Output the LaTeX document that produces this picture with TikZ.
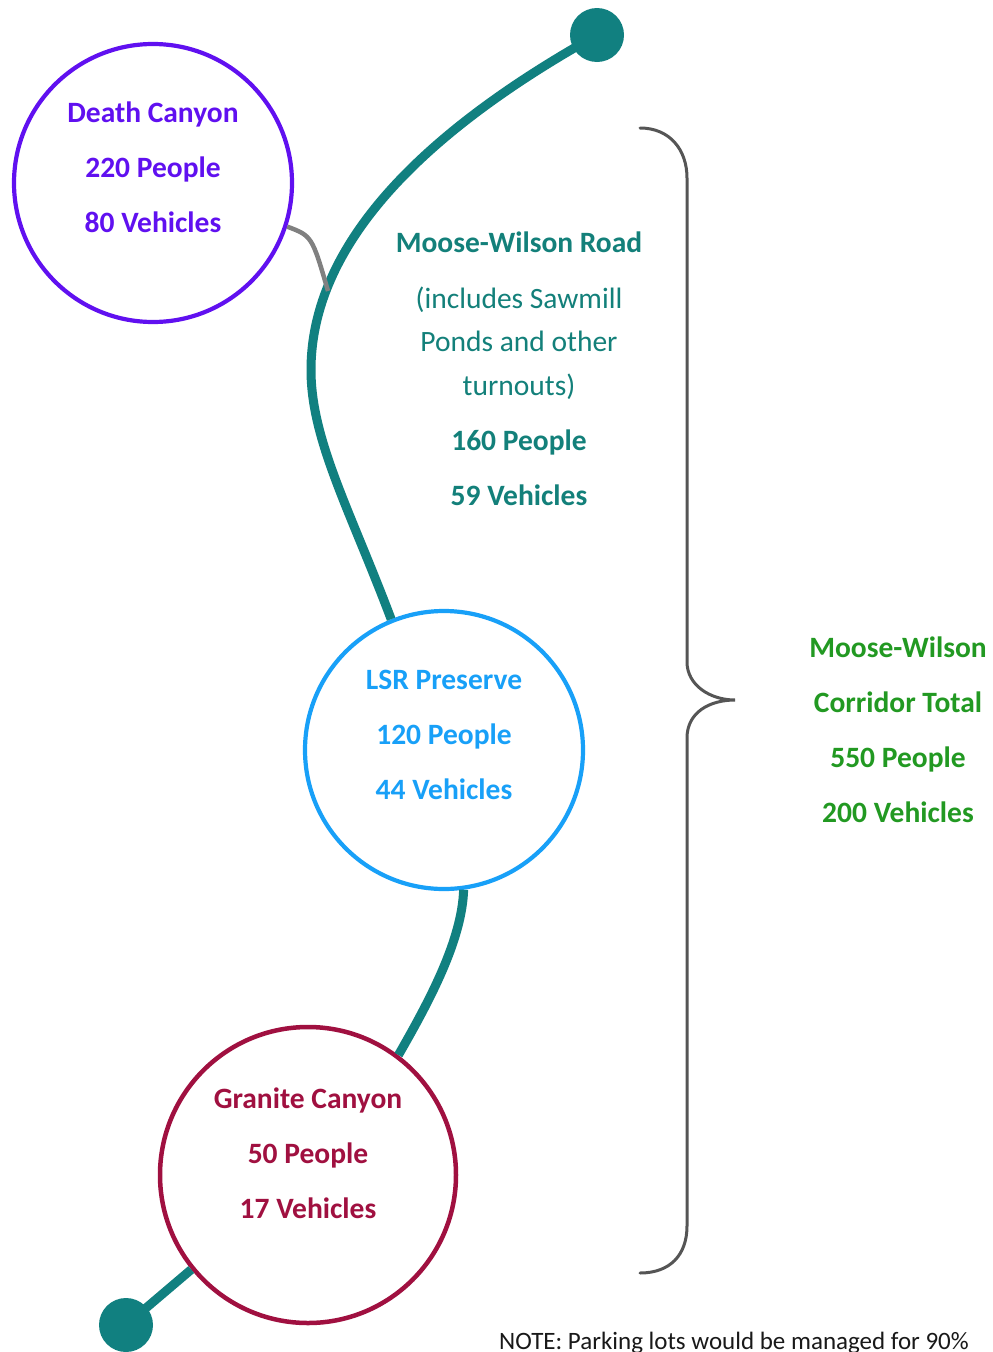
\documentclass[tikz,border=0pt]{standalone}
\usepackage{fontspec}
\setmainfont{Carlito}
\definecolor{roadc}{RGB}{17,128,128}
\definecolor{dcc}{RGB}{96,16,240}
\definecolor{lsrc}{RGB}{24,160,248}
\definecolor{gcc}{RGB}{160,16,64}
\definecolor{mwc}{RGB}{19,128,122}
\definecolor{totc}{RGB}{34,153,34}
\definecolor{grayc}{RGB}{128,128,128}
\definecolor{bracec}{RGB}{85,85,85}
\tikzset{
  road/.style={line width=9pt, draw=roadc},
  ring/.style={circle, draw, line width=4.2pt, inner sep=0pt},
  dotnode/.style={circle, fill=roadc, minimum size=54pt, inner sep=0pt},
  lbl/.style={anchor=base, inner sep=0pt, font=\bfseries\fontsize{29.5}{35}\selectfont},
  lblr/.style={anchor=base, inner sep=0pt, font=\fontsize{29.5}{35}\selectfont},
  bracepath/.style={line width=3pt, draw=bracec, line cap=round},
}
\begin{document}
\begin{tikzpicture}[x=1pt,y=-1pt]
\useasboundingbox[fill=white] (0,0) rectangle (993,1352);
% circles
\node[ring, draw=dcc, minimum size=278pt] (dc) at (153,183) {};
\node[ring, draw=lsrc, minimum size=278pt] (lsr) at (444,750) {};
\node[ring, draw=gcc, line width=4.5pt, minimum size=296pt] (gc) at (308,1175) {};
\node[dotnode] (td) at (597,35) {};
\node[dotnode] (bd) at (126,1325) {};
\coordinate (j) at (328,291);
% road
\draw[road] (td.center) .. controls (450,117) and (311,230) .. (311,370)
  .. controls (311,440) and (350,510) .. (lsr.112);
\draw[road] (lsr.-82) .. controls (462,940) and (430,1000) .. (gc.53);
\draw[road] (gc.219) -- (bd.center);
% gray spur
\draw[grayc, line width=4.5pt] (dc.-18) .. controls (312,236) .. (j);
% brace
\draw[bracepath] (640,128) .. controls (670,128) and (687,150) .. (687,178) -- (687,662)
  .. controls (687,685) and (710,700) .. (735,700)
  .. controls (710,700) and (687,712) .. (687,738) -- (687,1226)
  .. controls (687,1255) and (670,1273) .. (640,1273);
% Death Canyon
\node[lbl, text=dcc] (dc1) at (153,122) {Death Canyon};
\node[lbl, text=dcc] (dc2) at (153,177) {220 People};
\node[lbl, text=dcc] (dc3) at (153,232) {80 Vehicles};
% LSR
\node[lbl, text=lsrc] (ls1) at (444,689) {LSR Preserve};
\node[lbl, text=lsrc] (ls2) at (444,744) {120 People};
\node[lbl, text=lsrc] (ls3) at (444,799) {44 Vehicles};
% Granite
\node[lbl, text=gcc] (gc1) at (308,1108) {Granite Canyon};
\node[lbl, text=gcc] (gc2) at (308,1163) {50 People};
\node[lbl, text=gcc] (gc3) at (308,1218) {17 Vehicles};
% Moose-Wilson road
\node[lbl, text=mwc] (mw1) at (519,252) {Moose-Wilson Road};
\node[lblr, text=mwc] (mw2) at (519,308) {(includes Sawmill};
\node[lblr, text=mwc] (mw3) at (519,351) {Ponds and other};
\node[lblr, text=mwc] (mw4) at (519,395) {turnouts)};
\node[lbl, text=mwc] (mw5) at (519,450) {160 People};
\node[lbl, text=mwc] (mw6) at (519,505) {59 Vehicles};
% Total
\node[lbl, text=totc] (t1) at (898,657) {Moose-Wilson};
\node[lbl, text=totc] (t2) at (898,712) {Corridor Total};
\node[lbl, text=totc] (t3) at (898,767) {550 People};
\node[lbl, text=totc] (t4) at (898,822) {200 Vehicles};
% note
\node[anchor=base west, inner sep=0pt, font=\fontsize{25}{28}\selectfont, text=black!90] (note) at (499,1349) {NOTE: Parking lots would be managed for 90\%};
\end{tikzpicture}
\end{document}
